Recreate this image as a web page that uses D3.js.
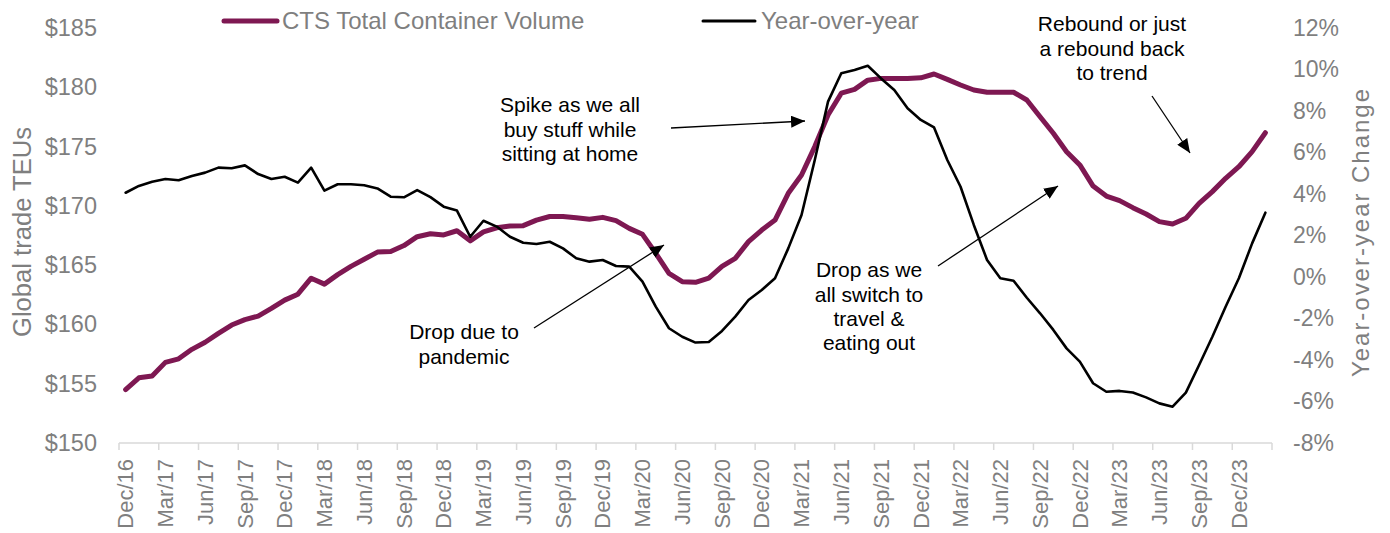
<!DOCTYPE html>
<html>
<head>
<meta charset="utf-8">
<script src="https://cdn.jsdelivr.net/npm/d3@7"></script>
<style>
  html, body { margin: 0; padding: 0; background: #fff; }
  svg { display: block; font-family: "Liberation Sans", Arial, sans-serif; }
</style>
</head>
<body>
<svg id="chart" width="1390" height="533"></svg>
<script>
const months = [
  "Dec/16",
  "Jan/17","Feb/17","Mar/17","Apr/17","May/17","Jun/17","Jul/17","Aug/17","Sep/17","Oct/17","Nov/17","Dec/17",
  "Jan/18","Feb/18","Mar/18","Apr/18","May/18","Jun/18","Jul/18","Aug/18","Sep/18","Oct/18","Nov/18","Dec/18",
  "Jan/19","Feb/19","Mar/19","Apr/19","May/19","Jun/19","Jul/19","Aug/19","Sep/19","Oct/19","Nov/19","Dec/19",
  "Jan/20","Feb/20","Mar/20","Apr/20","May/20","Jun/20","Jul/20","Aug/20","Sep/20","Oct/20","Nov/20","Dec/20",
  "Jan/21","Feb/21","Mar/21","Apr/21","May/21","Jun/21","Jul/21","Aug/21","Sep/21","Oct/21","Nov/21","Dec/21",
  "Jan/22","Feb/22","Mar/22","Apr/22","May/22","Jun/22","Jul/22","Aug/22","Sep/22","Oct/22","Nov/22","Dec/22",
  "Jan/23","Feb/23","Mar/23","Apr/23","May/23","Jun/23","Jul/23","Aug/23","Sep/23","Oct/23","Nov/23","Dec/23",
  "Jan/24","Feb/24"
];

const volume = [
  154.5,155.5,155.65,156.8,157.1,157.9,158.5,159.25,159.95,160.4,160.7,161.35,
  162.05,162.55,163.9,163.4,164.2,164.9,165.5,166.1,166.15,166.65,167.4,167.65,
  167.55,167.9,167.05,167.8,168.15,168.3,168.33,168.8,169.1,169.1,169.0,168.87,
  169.03,168.75,168.1,167.6,166.0,164.3,163.6,163.55,163.9,164.9,165.57,166.98,
  167.96,168.8,171.06,172.6,175.0,177.66,179.5,179.82,180.6,180.75,180.75,180.75,
  180.8,181.12,180.67,180.19,179.77,179.58,179.58,179.58,178.93,177.52,176.12,174.57,
  173.45,171.67,170.83,170.44,169.85,169.31,168.67,168.47,168.95,170.21,171.2,172.32,
  173.3,174.57,176.17
];

const yoy = [
  4.06,4.39,4.59,4.72,4.66,4.87,5.03,5.27,5.24,5.38,4.96,4.72,
  4.83,4.55,5.27,4.16,4.47,4.47,4.42,4.27,3.87,3.84,4.19,3.85,
  3.39,3.2,1.94,2.71,2.43,1.94,1.65,1.59,1.70,1.38,0.9,0.74,
  0.82,0.53,0.5,-0.22,-1.43,-2.47,-2.88,-3.16,-3.13,-2.6,-1.91,-1.11,
  -0.63,-0.06,1.38,2.99,5.64,8.45,9.82,9.98,10.18,9.57,9.01,8.13,
  7.57,7.21,5.64,4.35,2.51,0.82,-0.06,-0.18,-1.0,-1.75,-2.55,-3.44,
  -4.08,-5.12,-5.53,-5.49,-5.57,-5.8,-6.09,-6.25,-5.57,-4.24,-2.88,-1.43,
  -0.06,1.62,3.1
];

const xTickLabels = ["Dec/16","Mar/17","Jun/17","Sep/17","Dec/17","Mar/18","Jun/18","Sep/18","Dec/18",
  "Mar/19","Jun/19","Sep/19","Dec/19","Mar/20","Jun/20","Sep/20","Dec/20","Mar/21","Jun/21","Sep/21",
  "Dec/21","Mar/22","Jun/22","Sep/22","Dec/22","Mar/23","Jun/23","Sep/23","Dec/23"];
const leftTicks = [150,155,160,165,170,175,180,185];
const rightTicks = [-8,-6,-4,-2,0,2,4,6,8,10,12];

const seriesNames = ["CTS Total Container Volume","Year-over-year"];
const annotations = [
  {lines:["Drop due to","pandemic"], cx:464, y0:332, from:[534,328], to:[664,245]},
  {lines:["Spike as we all","buy stuff while","sitting at home"], cx:570, y0:105, from:[671,128], to:[805,121]},
  {lines:["Drop as we","all switch to","travel &","eating out"], cx:869, y0:270, from:[938,266], to:[1058,186]},
  {lines:["Rebound or just","a rebound back","to trend"], cx:1112, y0:24, from:[1152,96], to:[1190,153]}
];

const purple = "#7e1852";
const gray = "#7f7f7f";

const svg = d3.select("#chart");
const L = 119, R = 1272, T = 28, B = 443;

const x = d3.scaleBand().domain(months).range([L, R]).padding(0);
const yL = d3.scaleLinear().domain([150,185]).range([B, T]);
const yR = d3.scaleLinear().domain([-8,12]).range([B, T]);
const cx = m => x(m) + x.bandwidth()/2;

// X axis line and ticks (ticks at category boundaries, every 3 months)
svg.append("line").attr("x1", L).attr("x2", R).attr("y1", B).attr("y2", B)
  .attr("stroke", "#d9d9d9").attr("stroke-width", 1.5);
const tickXs = xTickLabels.map(m => x(m)).concat([R]);
svg.append("g").selectAll("line").data(tickXs).join("line")
  .attr("x1", d => d).attr("x2", d => d).attr("y1", B).attr("y2", B + 7)
  .attr("stroke", "#d9d9d9").attr("stroke-width", 1.5);

// X labels rotated
svg.append("g").selectAll("text").data(xTickLabels).join("text")
  .attr("transform", d => `translate(${cx(d)},${B + 16}) rotate(-90)`)
  .attr("text-anchor", "end").attr("dy", "0.35em")
  .attr("fill", gray).attr("font-size", 22).text(d => d);

// Left axis
const gl = svg.append("g").attr("transform", `translate(${L},0)`)
  .call(d3.axisLeft(yL).tickValues(leftTicks).tickSize(0).tickPadding(22).tickFormat(d => "$" + d));
gl.select(".domain").remove();
gl.selectAll("text").attr("fill", gray).attr("font-size", 23.5).attr("font-family", "Liberation Sans, Arial, sans-serif");

// Right axis
const gr = svg.append("g").attr("transform", `translate(${R},0)`)
  .call(d3.axisRight(yR).tickValues(rightTicks).tickSize(0).tickPadding(21).tickFormat(d => d + "%"));
gr.select(".domain").remove();
gr.selectAll("text").attr("fill", gray).attr("font-size", 23).attr("font-family", "Liberation Sans, Arial, sans-serif");

// Axis titles
svg.append("text").attr("transform", "translate(31,232) rotate(-90)")
  .attr("text-anchor", "middle").attr("fill", gray).attr("font-size", 25)
  .attr("textLength", 210).attr("lengthAdjust", "spacingAndGlyphs").text("Global trade TEUs");
svg.append("text").attr("transform", "translate(1369,233) rotate(-90)")
  .attr("text-anchor", "middle").attr("fill", gray).attr("font-size", 24)
  .attr("textLength", 288).attr("lengthAdjust", "spacing").text("Year-over-year Change");

// Lines
const lineL = d3.line().x((d,i) => cx(months[i])).y(d => yL(d));
const lineR = d3.line().x((d,i) => cx(months[i])).y(d => yR(d));
svg.append("path").datum(volume).attr("d", lineL).attr("fill", "none")
  .attr("stroke", purple).attr("stroke-width", 5).attr("stroke-linejoin", "round").attr("stroke-linecap", "round");
svg.append("path").datum(yoy).attr("d", lineR).attr("fill", "none")
  .attr("stroke", "#000").attr("stroke-width", 2.6).attr("stroke-linejoin", "round").attr("stroke-linecap", "round");

// Legend
const legend = [
  {name: seriesNames[0], color: purple, w: 5, x1: 224, x2: 277, tx: 282},
  {name: seriesNames[1], color: "#000", w: 3, x1: 703, x2: 755, tx: 761}
];
legend.forEach(l => {
  svg.append("line").attr("x1", l.x1).attr("x2", l.x2).attr("y1", 21).attr("y2", 21)
    .attr("stroke", l.color).attr("stroke-width", l.w).attr("stroke-linecap", "round");
  svg.append("text").attr("x", l.tx).attr("y", 21).attr("dy", "0.35em")
    .attr("fill", gray).attr("font-size", 24).text(l.name);
});

// Annotations
svg.append("defs").append("marker").attr("id", "arrow")
  .attr("viewBox", "0 0 14 12").attr("refX", 14).attr("refY", 6)
  .attr("markerWidth", 14).attr("markerHeight", 12).attr("markerUnits", "userSpaceOnUse")
  .attr("orient", "auto")
  .append("path").attr("d", "M0,0 L14,6 L0,12 Z").attr("fill", "#000");

annotations.forEach(a => {
  const t = svg.append("text").attr("text-anchor", "middle").attr("fill", "#000").attr("font-size", 21);
  a.lines.forEach((ln, i) => {
    t.append("tspan").attr("x", a.cx).attr("y", a.y0 + i * 24.3).attr("dy", "0.35em").text(ln);
  });
  svg.append("line").attr("x1", a.from[0]).attr("y1", a.from[1]).attr("x2", a.to[0]).attr("y2", a.to[1])
    .attr("stroke", "#000").attr("stroke-width", 1.3).attr("marker-end", "url(#arrow)");
});
</script>
</body>
</html>
